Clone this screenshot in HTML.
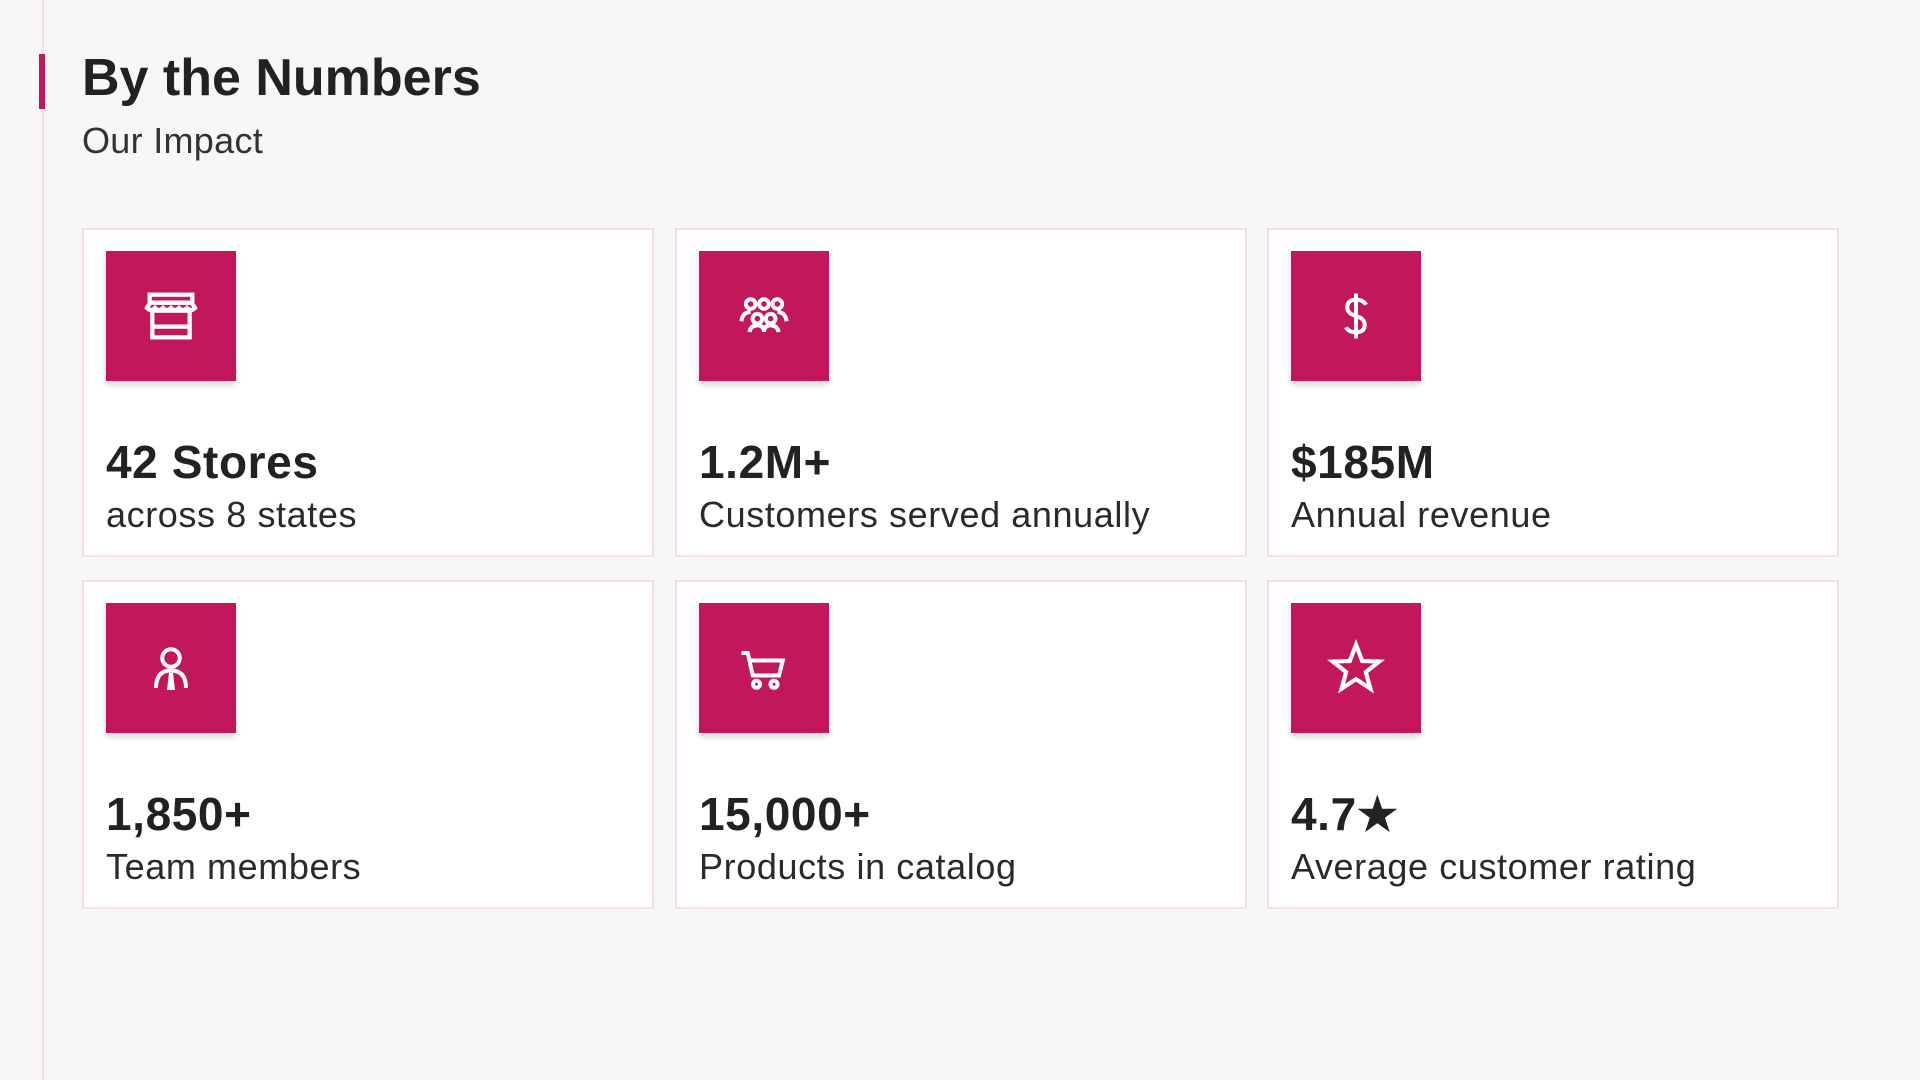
<!DOCTYPE html>
<html><head><meta charset="utf-8"><style>
*{margin:0;padding:0;box-sizing:border-box}
body{width:1920px;height:1080px;background:#f7f7f7;font-family:"Liberation Sans",sans-serif;color:#222;position:relative;overflow:hidden}
.vline{position:absolute;left:42px;top:0;width:2px;height:1080px;background:#f3dfe5}
.bar{position:absolute;left:39px;top:54px;width:6px;height:55px;background:#c2185b}
h1{position:absolute;left:82px;top:48px;font-size:52px;font-weight:bold;color:#222;letter-spacing:0px}
.sub{position:absolute;left:82px;top:120px;font-size:36px;color:#333;letter-spacing:0.3px}
.card{position:absolute;width:572px;height:329px;background:#fff;border:2px solid #f3dfe5}
.icon{position:absolute;left:22px;top:21px;width:130px;height:130px;background:#c2185b;box-shadow:0 4px 6px rgba(0,0,0,0.15);display:flex;align-items:center;justify-content:center}
.val{position:absolute;left:22px;top:205px;font-size:46px;font-weight:bold;color:#222;letter-spacing:0.6px}
.lab{position:absolute;left:22px;top:264px;font-size:36px;color:#2a2a2a;letter-spacing:0.6px}
</style></head><body>
<div class="vline"></div><div class="bar"></div>
<h1>By the Numbers</h1>
<div class="sub">Our Impact</div>

<div class="card" style="left:82px;top:228px">
<div class="icon"><svg width="64" height="64" viewBox="0 0 24 24" fill="none" stroke="#fff" stroke-width="1.6"><rect x="4" y="4" width="16" height="3"/><path d="M3 9 Q4 7 5 7 H19 Q20 7 21 9 Q19.5 10.5 18 9 Q16.5 10.5 15 9 Q13.5 10.5 12 9 Q10.5 10.5 9 9 Q7.5 10.5 6 9 Q4.5 10.5 3 9Z"/><rect x="5" y="10" width="14" height="10"/><line x1="5" y1="16" x2="19" y2="16"/></svg></div>
<div class="val">42 Stores</div><div class="lab">across 8 states</div></div>

<div class="card" style="left:675px;top:228px">
<div class="icon"><svg width="64" height="64" viewBox="0 0 24 24" fill="none" stroke="#fff" stroke-width="1.5"><circle cx="7" cy="7.5" r="1.8"/><circle cx="17" cy="7.5" r="1.8"/><circle cx="12" cy="7.5" r="1.8"/><circle cx="9.5" cy="13" r="1.8"/><circle cx="14.5" cy="13" r="1.8"/><path d="M3.5 14 Q4 10.5 7 10.5"/><path d="M20.5 14 Q20 10.5 17 10.5"/><path d="M6.5 18 Q7 15.5 9.5 15.5 Q12 15.5 12 18"/><path d="M12 18 Q12 15.5 14.5 15.5 Q17 15.5 17.5 18"/></svg></div>
<div class="val">1.2M+</div><div class="lab">Customers served annually</div></div>

<div class="card" style="left:1267px;top:228px">
<div class="icon"><svg width="60" height="60" viewBox="0 0 24 24" fill="none" stroke="#fff" stroke-width="1.6"><line x1="12" y1="3" x2="12" y2="21"/><path d="M16 7.5 Q15 5.5 12 5.5 Q8.5 5.5 8.5 8.5 Q8.5 11 12 12 Q15.5 13 15.5 15.5 Q15.5 18.5 12 18.5 Q9 18.5 8 16.5"/></svg></div>
<div class="val">$185M</div><div class="lab">Annual revenue</div></div>

<div class="card" style="left:82px;top:580px">
<div class="icon"><svg width="60" height="60" viewBox="0 0 24 24" fill="none" stroke="#fff" stroke-width="1.6"><circle cx="12" cy="8" r="3.5"/><path d="M6 20 Q6 13 12 13 Q18 13 18 20"/><path d="M12 14 L11.3 20 H12.7Z" fill="#fff"/></svg></div>
<div class="val">1,850+</div><div class="lab">Team members</div></div>

<div class="card" style="left:675px;top:580px">
<div class="icon"><svg width="60" height="60" viewBox="0 0 24 24" fill="none" stroke="#fff" stroke-width="1.6"><path d="M3 6 H5.5 L7.5 15 H18 L19.5 9 H6.5"/><circle cx="9" cy="18.5" r="1.4"/><circle cx="16" cy="18.5" r="1.4"/></svg></div>
<div class="val">15,000+</div><div class="lab">Products in catalog</div></div>

<div class="card" style="left:1267px;top:580px">
<div class="icon"><svg width="62" height="62" viewBox="0 0 24 24" fill="none" stroke="#fff" stroke-width="1.6" stroke-linejoin="miter"><path d="M12 3 L14.4 9.3 L21 9.5 L15.8 13.6 L17.6 20 L12 16.3 L6.4 20 L8.2 13.6 L3 9.5 L9.6 9.3Z"/></svg></div>
<div class="val">4.7★</div><div class="lab">Average customer rating</div></div>
</body></html>
